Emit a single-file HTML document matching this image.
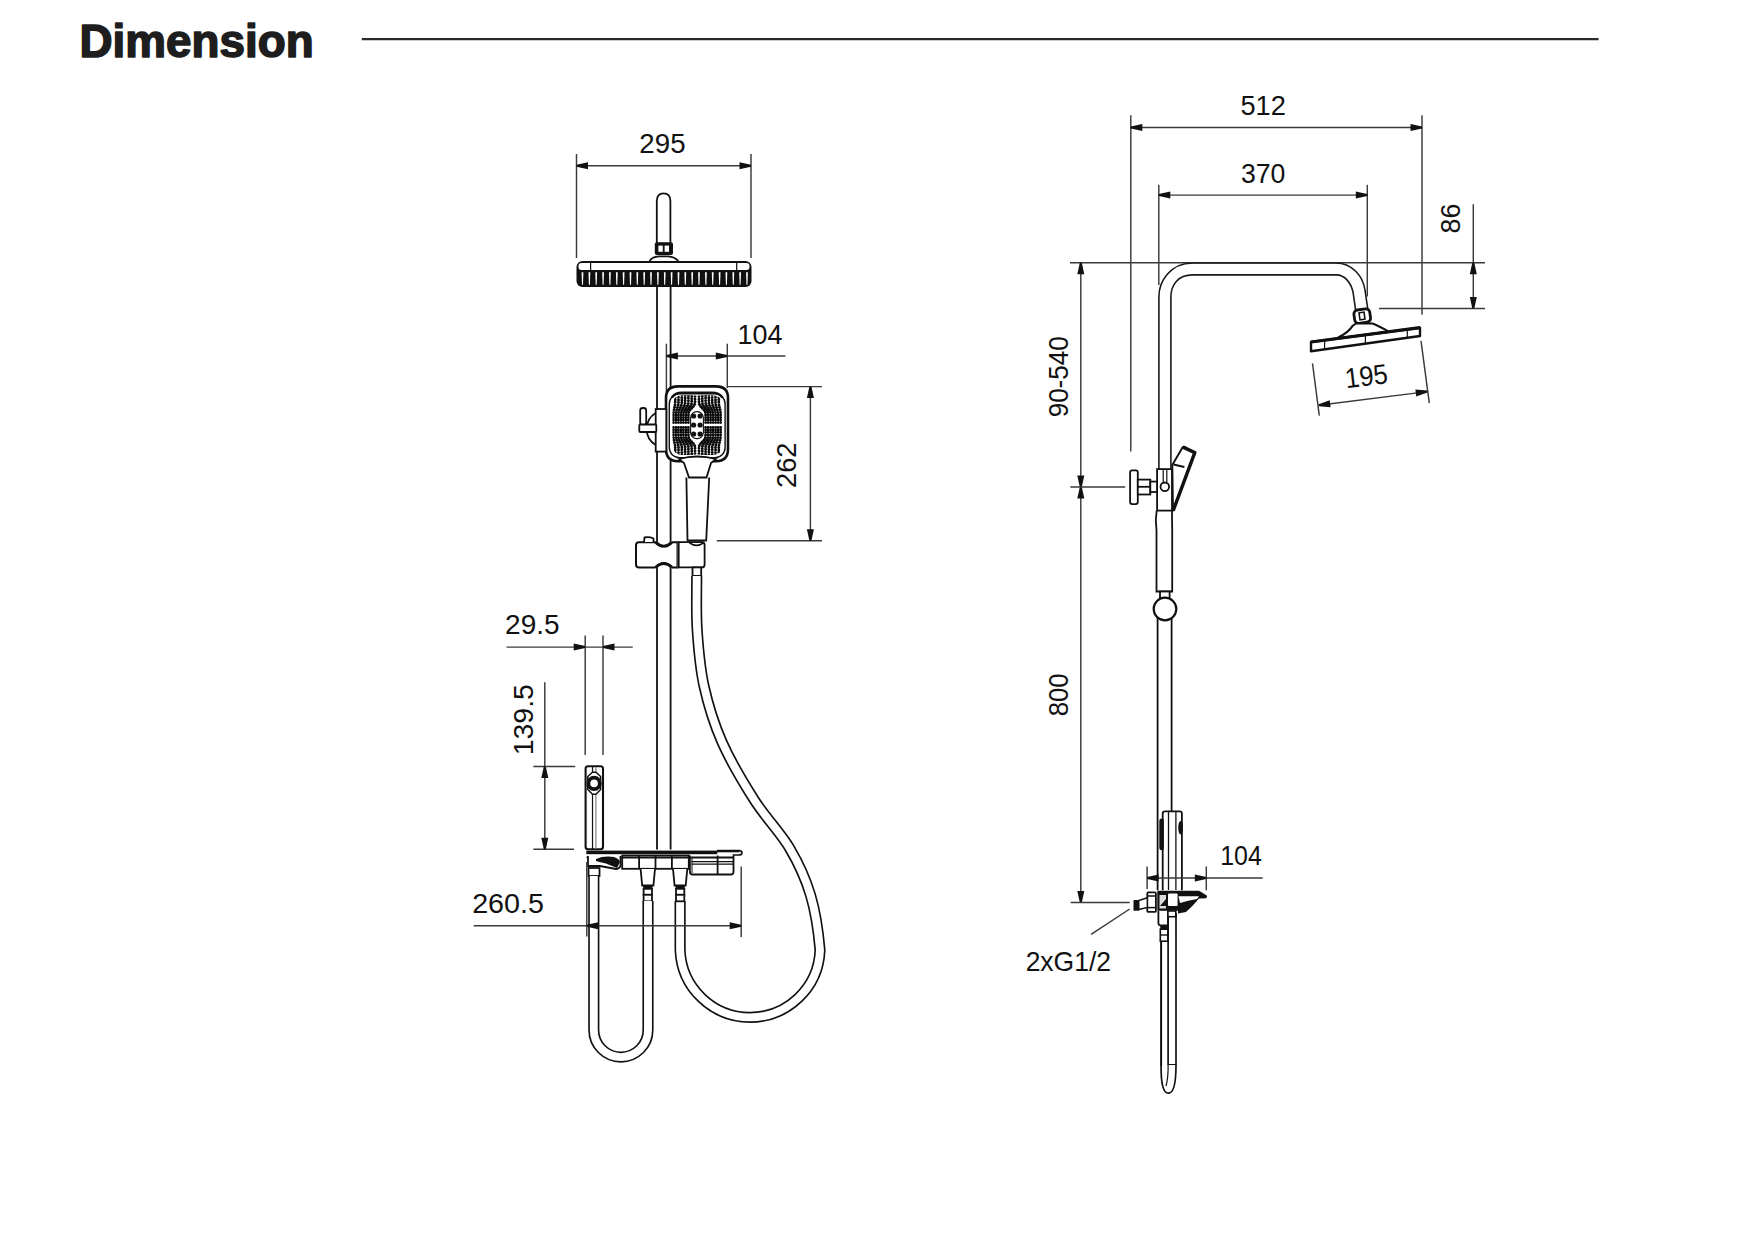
<!DOCTYPE html>
<html><head><meta charset="utf-8"><title>Dimension</title>
<style>
html,body{margin:0;padding:0;background:#fff;}
body{width:1755px;height:1241px;overflow:hidden;}
svg{display:block;font-family:"Liberation Sans",sans-serif;}
</style></head>
<body>
<svg width="1755" height="1241" viewBox="0 0 1755 1241">
<rect width="1755" height="1241" fill="#fff"/>
<text x="79.5" y="56.5" font-size="45.8" font-weight="bold" fill="#1e1e1e" stroke="#1e1e1e" stroke-width="1.6" stroke-linejoin="round">Dimension</text>
<line x1="361.8" y1="39.2" x2="1598.6" y2="39.2" stroke="#2a2a2a" stroke-width="2.3"/>
<g fill="#111">
<line x1="576.5" y1="154.0" x2="576.5" y2="258.0" stroke="#3a3a3a" stroke-width="1.45" fill="none"/>
<line x1="751.0" y1="154.0" x2="751.0" y2="258.0" stroke="#3a3a3a" stroke-width="1.45" fill="none"/>
<line x1="576.5" y1="165.8" x2="751.0" y2="165.8" stroke="#3a3a3a" stroke-width="1.45" fill="none"/>
<path d="M576.50,164.80 L588.00,162.30 L588.00,169.30 L576.50,166.80 Z" fill="#111"/>
<path d="M751.00,166.80 L739.50,169.30 L739.50,162.30 L751.00,164.80 Z" fill="#111"/>
<text x="662.45" y="152.72" font-size="28" text-anchor="middle" textLength="46.19" lengthAdjust="spacingAndGlyphs">295</text>
<path d="M656.8,243 V201 Q656.8,193.3 663.6,193.3 Q670.4,193.3 670.4,201 V243" stroke="#111" stroke-width="1.8" fill="none"/>
<rect x="654.8" y="242.3" width="18.2" height="12.8" rx="2" fill="#111"/>
<rect x="658.4" y="245.6" width="4.4" height="6.2" fill="#fff"/>
<rect x="664.6" y="245.6" width="4.4" height="6.2" fill="#fff"/>
<path d="M649.6,261 Q652,256.8 659,256.3 H668 Q675,256.8 678.3,261" stroke="#111" stroke-width="1.8" fill="none"/>
<rect x="576.5" y="261" width="175" height="26" rx="6" fill="#111"/>
<rect x="578.5" y="263" width="171" height="7" rx="3" fill="#fff"/>
<line x1="590.6" y1="263.0" x2="590.6" y2="270.0" stroke="#111" stroke-width="1.2"/>
<line x1="736.7" y1="263.0" x2="736.7" y2="270.0" stroke="#111" stroke-width="1.2"/>
<path d="M581.6,272.3 L583.4,272.3 L583.0,284.8 L582.0,284.8 Z" fill="#fff"/>
<path d="M588.5,272.3 L590.3,272.3 L589.9,284.8 L588.9,284.8 Z" fill="#fff"/>
<path d="M595.3,272.3 L597.1,272.3 L596.7,284.8 L595.7,284.8 Z" fill="#fff"/>
<path d="M602.2,272.3 L604.0,272.3 L603.6,284.8 L602.6,284.8 Z" fill="#fff"/>
<path d="M609.0,272.3 L610.8,272.3 L610.4,284.8 L609.4,284.8 Z" fill="#fff"/>
<path d="M615.9,272.3 L617.7,272.3 L617.3,284.8 L616.3,284.8 Z" fill="#fff"/>
<path d="M622.7,272.3 L624.5,272.3 L624.1,284.8 L623.1,284.8 Z" fill="#fff"/>
<path d="M629.6,272.3 L631.4,272.3 L631.0,284.8 L630.0,284.8 Z" fill="#fff"/>
<path d="M636.4,272.3 L638.2,272.3 L637.8,284.8 L636.8,284.8 Z" fill="#fff"/>
<path d="M643.3,272.3 L645.1,272.3 L644.7,284.8 L643.7,284.8 Z" fill="#fff"/>
<path d="M650.1,272.3 L651.9,272.3 L651.5,284.8 L650.5,284.8 Z" fill="#fff"/>
<path d="M657.0,272.3 L658.8,272.3 L658.4,284.8 L657.4,284.8 Z" fill="#fff"/>
<path d="M663.9,272.3 L665.6,272.3 L665.2,284.8 L664.2,284.8 Z" fill="#fff"/>
<path d="M670.7,272.3 L672.5,272.3 L672.1,284.8 L671.1,284.8 Z" fill="#fff"/>
<path d="M677.6,272.3 L679.4,272.3 L679.0,284.8 L678.0,284.8 Z" fill="#fff"/>
<path d="M684.4,272.3 L686.2,272.3 L685.8,284.8 L684.8,284.8 Z" fill="#fff"/>
<path d="M691.3,272.3 L693.1,272.3 L692.7,284.8 L691.7,284.8 Z" fill="#fff"/>
<path d="M698.1,272.3 L699.9,272.3 L699.5,284.8 L698.5,284.8 Z" fill="#fff"/>
<path d="M705.0,272.3 L706.8,272.3 L706.4,284.8 L705.4,284.8 Z" fill="#fff"/>
<path d="M711.8,272.3 L713.6,272.3 L713.2,284.8 L712.2,284.8 Z" fill="#fff"/>
<path d="M718.7,272.3 L720.5,272.3 L720.1,284.8 L719.1,284.8 Z" fill="#fff"/>
<path d="M725.5,272.3 L727.3,272.3 L726.9,284.8 L725.9,284.8 Z" fill="#fff"/>
<path d="M732.4,272.3 L734.2,272.3 L733.8,284.8 L732.8,284.8 Z" fill="#fff"/>
<path d="M739.2,272.3 L741.0,272.3 L740.6,284.8 L739.6,284.8 Z" fill="#fff"/>
<path d="M746.1,272.3 L747.9,272.3 L747.5,284.8 L746.5,284.8 Z" fill="#fff"/>
<line x1="657.0" y1="287.0" x2="657.0" y2="849.5" stroke="#111" stroke-width="1.8" fill="none"/>
<line x1="670.6" y1="287.0" x2="670.6" y2="849.5" stroke="#111" stroke-width="1.8" fill="none"/>
<line x1="666.4" y1="343.7" x2="666.4" y2="392.0" stroke="#3a3a3a" stroke-width="1.45" fill="none"/>
<line x1="727.3" y1="343.7" x2="727.3" y2="388.0" stroke="#3a3a3a" stroke-width="1.45" fill="none"/>
<line x1="666.4" y1="356.0" x2="785.4" y2="356.0" stroke="#3a3a3a" stroke-width="1.45" fill="none"/>
<path d="M666.40,355.00 L677.90,352.50 L677.90,359.50 L666.40,357.00 Z" fill="#111"/>
<path d="M727.30,357.00 L715.80,359.50 L715.80,352.50 L727.30,355.00 Z" fill="#111"/>
<text x="760.05" y="343.77" font-size="28" text-anchor="middle" textLength="44.91" lengthAdjust="spacingAndGlyphs">104</text>
<path d="M666,398 Q666,386.4 678,386.4 H716 Q728,386.4 728,398 V449 Q728,461.2 716,461.2 H678 Q666,461.2 666,449 Z" fill="#fff" stroke="#111" stroke-width="2.6"/>
<rect x="669.3" y="393.8" width="55.8" height="63.8" rx="10" fill="#fff" stroke="#111" stroke-width="1.4"/>
<path d="M672,397.5 Q675,392.6 682,392.6 H712 Q719,392.6 722.4,397.5" stroke="#111" stroke-width="2.4" fill="none"/>
<defs><clipPath id="fieldclip"><rect x="672.4" y="395.2" width="50" height="59.8" rx="9"/></clipPath></defs>
<g clip-path="url(#fieldclip)" stroke="#0a0a0a" stroke-width="2.9" stroke-linecap="round" stroke-dasharray="0.01 2.55" fill="none"><path d="M688.40,422.60 L688.40,421.90 L688.40,421.19 L688.40,420.49 L688.40,419.79 L688.40,419.09 L688.40,418.38 L688.40,417.68 L688.40,416.98 L688.40,416.28 L688.40,415.57 L688.40,414.87 L688.40,414.17 L688.40,413.47 L688.49,412.76 L688.74,412.06 L689.11,411.36 L689.59,410.66 L690.15,409.95 L690.77,409.25 L691.42,408.55 L692.08,407.85 L692.73,407.14 L693.34,406.44 L693.89,405.74 L694.35,405.04 L694.71,404.33 L694.93,403.63 L695.00,402.93 L695.00,402.23 L695.00,401.52 L695.00,400.82 L695.00,400.12 L695.00,399.42 L695.00,398.71 L695.00,398.01 L695.00,397.31 L695.00,396.61 L695.00,395.90 L695.00,395.20 L695.00,394.50"/><path d="M688.40,427.40 L688.40,428.10 L688.40,428.81 L688.40,429.51 L688.40,430.21 L688.40,430.91 L688.40,431.62 L688.40,432.32 L688.40,433.02 L688.40,433.72 L688.40,434.43 L688.40,435.13 L688.40,435.83 L688.40,436.53 L688.49,437.24 L688.74,437.94 L689.11,438.64 L689.59,439.34 L690.15,440.05 L690.77,440.75 L691.42,441.45 L692.08,442.15 L692.73,442.86 L693.34,443.56 L693.89,444.26 L694.35,444.96 L694.71,445.67 L694.93,446.37 L695.00,447.07 L695.00,447.77 L695.00,448.48 L695.00,449.18 L695.00,449.88 L695.00,450.58 L695.00,451.29 L695.00,451.99 L695.00,452.69 L695.00,453.39 L695.00,454.10 L695.00,454.80 L695.00,455.50"/><path d="M705.60,422.60 L705.60,421.90 L705.60,421.19 L705.60,420.49 L705.60,419.79 L705.60,419.09 L705.60,418.38 L705.60,417.68 L705.60,416.98 L705.60,416.28 L705.60,415.57 L705.60,414.87 L705.60,414.17 L705.60,413.47 L705.51,412.76 L705.26,412.06 L704.89,411.36 L704.41,410.66 L703.85,409.95 L703.23,409.25 L702.58,408.55 L701.92,407.85 L701.27,407.14 L700.66,406.44 L700.11,405.74 L699.65,405.04 L699.29,404.33 L699.07,403.63 L699.00,402.93 L699.00,402.23 L699.00,401.52 L699.00,400.82 L699.00,400.12 L699.00,399.42 L699.00,398.71 L699.00,398.01 L699.00,397.31 L699.00,396.61 L699.00,395.90 L699.00,395.20 L699.00,394.50"/><path d="M705.60,427.40 L705.60,428.10 L705.60,428.81 L705.60,429.51 L705.60,430.21 L705.60,430.91 L705.60,431.62 L705.60,432.32 L705.60,433.02 L705.60,433.72 L705.60,434.43 L705.60,435.13 L705.60,435.83 L705.60,436.53 L705.51,437.24 L705.26,437.94 L704.89,438.64 L704.41,439.34 L703.85,440.05 L703.23,440.75 L702.58,441.45 L701.92,442.15 L701.27,442.86 L700.66,443.56 L700.11,444.26 L699.65,444.96 L699.29,445.67 L699.07,446.37 L699.00,447.07 L699.00,447.77 L699.00,448.48 L699.00,449.18 L699.00,449.88 L699.00,450.58 L699.00,451.29 L699.00,451.99 L699.00,452.69 L699.00,453.39 L699.00,454.10 L699.00,454.80 L699.00,455.50"/><path d="M685.90,422.60 L685.90,421.90 L685.90,421.19 L685.90,420.49 L685.90,419.79 L685.90,419.09 L685.90,418.38 L685.90,417.68 L685.90,416.98 L685.90,416.28 L685.90,415.57 L685.90,414.87 L685.90,414.17 L685.90,413.47 L685.98,412.76 L686.20,412.06 L686.52,411.36 L686.95,410.66 L687.44,409.95 L687.98,409.25 L688.55,408.55 L689.13,407.85 L689.70,407.14 L690.24,406.44 L690.72,405.74 L691.13,405.04 L691.44,404.33 L691.64,403.63 L691.70,402.93 L691.70,402.23 L691.70,401.52 L691.70,400.82 L691.70,400.12 L691.70,399.42 L691.70,398.71 L691.70,398.01 L691.70,397.31 L691.70,396.61 L691.70,395.90 L691.70,395.20 L691.70,394.50"/><path d="M685.90,427.40 L685.90,428.10 L685.90,428.81 L685.90,429.51 L685.90,430.21 L685.90,430.91 L685.90,431.62 L685.90,432.32 L685.90,433.02 L685.90,433.72 L685.90,434.43 L685.90,435.13 L685.90,435.83 L685.90,436.53 L685.98,437.24 L686.20,437.94 L686.52,438.64 L686.95,439.34 L687.44,440.05 L687.98,440.75 L688.55,441.45 L689.13,442.15 L689.70,442.86 L690.24,443.56 L690.72,444.26 L691.13,444.96 L691.44,445.67 L691.64,446.37 L691.70,447.07 L691.70,447.77 L691.70,448.48 L691.70,449.18 L691.70,449.88 L691.70,450.58 L691.70,451.29 L691.70,451.99 L691.70,452.69 L691.70,453.39 L691.70,454.10 L691.70,454.80 L691.70,455.50"/><path d="M708.10,422.60 L708.10,421.90 L708.10,421.19 L708.10,420.49 L708.10,419.79 L708.10,419.09 L708.10,418.38 L708.10,417.68 L708.10,416.98 L708.10,416.28 L708.10,415.57 L708.10,414.87 L708.10,414.17 L708.10,413.47 L708.02,412.76 L707.80,412.06 L707.48,411.36 L707.05,410.66 L706.56,409.95 L706.02,409.25 L705.45,408.55 L704.87,407.85 L704.30,407.14 L703.76,406.44 L703.28,405.74 L702.87,405.04 L702.56,404.33 L702.36,403.63 L702.30,402.93 L702.30,402.23 L702.30,401.52 L702.30,400.82 L702.30,400.12 L702.30,399.42 L702.30,398.71 L702.30,398.01 L702.30,397.31 L702.30,396.61 L702.30,395.90 L702.30,395.20 L702.30,394.50"/><path d="M708.10,427.40 L708.10,428.10 L708.10,428.81 L708.10,429.51 L708.10,430.21 L708.10,430.91 L708.10,431.62 L708.10,432.32 L708.10,433.02 L708.10,433.72 L708.10,434.43 L708.10,435.13 L708.10,435.83 L708.10,436.53 L708.02,437.24 L707.80,437.94 L707.48,438.64 L707.05,439.34 L706.56,440.05 L706.02,440.75 L705.45,441.45 L704.87,442.15 L704.30,442.86 L703.76,443.56 L703.28,444.26 L702.87,444.96 L702.56,445.67 L702.36,446.37 L702.30,447.07 L702.30,447.77 L702.30,448.48 L702.30,449.18 L702.30,449.88 L702.30,450.58 L702.30,451.29 L702.30,451.99 L702.30,452.69 L702.30,453.39 L702.30,454.10 L702.30,454.80 L702.30,455.50"/><path d="M683.40,422.60 L683.40,421.90 L683.40,421.19 L683.40,420.49 L683.40,419.79 L683.40,419.09 L683.40,418.38 L683.40,417.68 L683.40,416.98 L683.40,416.28 L683.40,415.57 L683.40,414.87 L683.40,414.17 L683.40,413.47 L683.47,412.76 L683.66,412.06 L683.94,411.36 L684.30,410.66 L684.72,409.95 L685.19,409.25 L685.69,408.55 L686.19,407.85 L686.68,407.14 L687.14,406.44 L687.56,405.74 L687.91,405.04 L688.18,404.33 L688.35,403.63 L688.40,402.93 L688.40,402.23 L688.40,401.52 L688.40,400.82 L688.40,400.12 L688.40,399.42 L688.40,398.71 L688.40,398.01 L688.40,397.31 L688.40,396.61 L688.40,395.90 L688.40,395.20 L688.40,394.50"/><path d="M683.40,427.40 L683.40,428.10 L683.40,428.81 L683.40,429.51 L683.40,430.21 L683.40,430.91 L683.40,431.62 L683.40,432.32 L683.40,433.02 L683.40,433.72 L683.40,434.43 L683.40,435.13 L683.40,435.83 L683.40,436.53 L683.47,437.24 L683.66,437.94 L683.94,438.64 L684.30,439.34 L684.72,440.05 L685.19,440.75 L685.69,441.45 L686.19,442.15 L686.68,442.86 L687.14,443.56 L687.56,444.26 L687.91,444.96 L688.18,445.67 L688.35,446.37 L688.40,447.07 L688.40,447.77 L688.40,448.48 L688.40,449.18 L688.40,449.88 L688.40,450.58 L688.40,451.29 L688.40,451.99 L688.40,452.69 L688.40,453.39 L688.40,454.10 L688.40,454.80 L688.40,455.50"/><path d="M710.60,422.60 L710.60,421.90 L710.60,421.19 L710.60,420.49 L710.60,419.79 L710.60,419.09 L710.60,418.38 L710.60,417.68 L710.60,416.98 L710.60,416.28 L710.60,415.57 L710.60,414.87 L710.60,414.17 L710.60,413.47 L710.53,412.76 L710.34,412.06 L710.06,411.36 L709.70,410.66 L709.28,409.95 L708.81,409.25 L708.31,408.55 L707.81,407.85 L707.32,407.14 L706.86,406.44 L706.44,405.74 L706.09,405.04 L705.82,404.33 L705.65,403.63 L705.60,402.93 L705.60,402.23 L705.60,401.52 L705.60,400.82 L705.60,400.12 L705.60,399.42 L705.60,398.71 L705.60,398.01 L705.60,397.31 L705.60,396.61 L705.60,395.90 L705.60,395.20 L705.60,394.50"/><path d="M710.60,427.40 L710.60,428.10 L710.60,428.81 L710.60,429.51 L710.60,430.21 L710.60,430.91 L710.60,431.62 L710.60,432.32 L710.60,433.02 L710.60,433.72 L710.60,434.43 L710.60,435.13 L710.60,435.83 L710.60,436.53 L710.53,437.24 L710.34,437.94 L710.06,438.64 L709.70,439.34 L709.28,440.05 L708.81,440.75 L708.31,441.45 L707.81,442.15 L707.32,442.86 L706.86,443.56 L706.44,444.26 L706.09,444.96 L705.82,445.67 L705.65,446.37 L705.60,447.07 L705.60,447.77 L705.60,448.48 L705.60,449.18 L705.60,449.88 L705.60,450.58 L705.60,451.29 L705.60,451.99 L705.60,452.69 L705.60,453.39 L705.60,454.10 L705.60,454.80 L705.60,455.50"/><path d="M680.90,422.60 L680.90,421.90 L680.90,421.19 L680.90,420.49 L680.90,419.79 L680.90,419.09 L680.90,418.38 L680.90,417.68 L680.90,416.98 L680.90,416.28 L680.90,415.57 L680.90,414.87 L680.90,414.17 L680.90,413.47 L680.96,412.76 L681.11,412.06 L681.35,411.36 L681.66,410.66 L682.01,409.95 L682.41,409.25 L682.82,408.55 L683.24,407.85 L683.65,407.14 L684.04,406.44 L684.39,405.74 L684.69,405.04 L684.91,404.33 L685.06,403.63 L685.10,402.93 L685.10,402.23 L685.10,401.52 L685.10,400.82 L685.10,400.12 L685.10,399.42 L685.10,398.71 L685.10,398.01 L685.10,397.31 L685.10,396.61 L685.10,395.90 L685.10,395.20 L685.10,394.50"/><path d="M680.90,427.40 L680.90,428.10 L680.90,428.81 L680.90,429.51 L680.90,430.21 L680.90,430.91 L680.90,431.62 L680.90,432.32 L680.90,433.02 L680.90,433.72 L680.90,434.43 L680.90,435.13 L680.90,435.83 L680.90,436.53 L680.96,437.24 L681.11,437.94 L681.35,438.64 L681.66,439.34 L682.01,440.05 L682.41,440.75 L682.82,441.45 L683.24,442.15 L683.65,442.86 L684.04,443.56 L684.39,444.26 L684.69,444.96 L684.91,445.67 L685.06,446.37 L685.10,447.07 L685.10,447.77 L685.10,448.48 L685.10,449.18 L685.10,449.88 L685.10,450.58 L685.10,451.29 L685.10,451.99 L685.10,452.69 L685.10,453.39 L685.10,454.10 L685.10,454.80 L685.10,455.50"/><path d="M713.10,422.60 L713.10,421.90 L713.10,421.19 L713.10,420.49 L713.10,419.79 L713.10,419.09 L713.10,418.38 L713.10,417.68 L713.10,416.98 L713.10,416.28 L713.10,415.57 L713.10,414.87 L713.10,414.17 L713.10,413.47 L713.04,412.76 L712.89,412.06 L712.65,411.36 L712.34,410.66 L711.99,409.95 L711.59,409.25 L711.18,408.55 L710.76,407.85 L710.35,407.14 L709.96,406.44 L709.61,405.74 L709.31,405.04 L709.09,404.33 L708.94,403.63 L708.90,402.93 L708.90,402.23 L708.90,401.52 L708.90,400.82 L708.90,400.12 L708.90,399.42 L708.90,398.71 L708.90,398.01 L708.90,397.31 L708.90,396.61 L708.90,395.90 L708.90,395.20 L708.90,394.50"/><path d="M713.10,427.40 L713.10,428.10 L713.10,428.81 L713.10,429.51 L713.10,430.21 L713.10,430.91 L713.10,431.62 L713.10,432.32 L713.10,433.02 L713.10,433.72 L713.10,434.43 L713.10,435.13 L713.10,435.83 L713.10,436.53 L713.04,437.24 L712.89,437.94 L712.65,438.64 L712.34,439.34 L711.99,440.05 L711.59,440.75 L711.18,441.45 L710.76,442.15 L710.35,442.86 L709.96,443.56 L709.61,444.26 L709.31,444.96 L709.09,445.67 L708.94,446.37 L708.90,447.07 L708.90,447.77 L708.90,448.48 L708.90,449.18 L708.90,449.88 L708.90,450.58 L708.90,451.29 L708.90,451.99 L708.90,452.69 L708.90,453.39 L708.90,454.10 L708.90,454.80 L708.90,455.50"/><path d="M678.40,422.60 L678.40,421.90 L678.40,421.19 L678.40,420.49 L678.40,419.79 L678.40,419.09 L678.40,418.38 L678.40,417.68 L678.40,416.98 L678.40,416.28 L678.40,415.57 L678.40,414.87 L678.40,414.17 L678.40,413.47 L678.45,412.76 L678.57,412.06 L678.77,411.36 L679.01,410.66 L679.30,409.95 L679.62,409.25 L679.95,408.55 L680.30,407.85 L680.63,407.14 L680.94,406.44 L681.23,405.74 L681.47,405.04 L681.65,404.33 L681.76,403.63 L681.80,402.93 L681.80,402.23 L681.80,401.52 L681.80,400.82 L681.80,400.12 L681.80,399.42 L681.80,398.71 L681.80,398.01 L681.80,397.31 L681.80,396.61 L681.80,395.90 L681.80,395.20 L681.80,394.50"/><path d="M678.40,427.40 L678.40,428.10 L678.40,428.81 L678.40,429.51 L678.40,430.21 L678.40,430.91 L678.40,431.62 L678.40,432.32 L678.40,433.02 L678.40,433.72 L678.40,434.43 L678.40,435.13 L678.40,435.83 L678.40,436.53 L678.45,437.24 L678.57,437.94 L678.77,438.64 L679.01,439.34 L679.30,440.05 L679.62,440.75 L679.95,441.45 L680.30,442.15 L680.63,442.86 L680.94,443.56 L681.23,444.26 L681.47,444.96 L681.65,445.67 L681.76,446.37 L681.80,447.07 L681.80,447.77 L681.80,448.48 L681.80,449.18 L681.80,449.88 L681.80,450.58 L681.80,451.29 L681.80,451.99 L681.80,452.69 L681.80,453.39 L681.80,454.10 L681.80,454.80 L681.80,455.50"/><path d="M715.60,422.60 L715.60,421.90 L715.60,421.19 L715.60,420.49 L715.60,419.79 L715.60,419.09 L715.60,418.38 L715.60,417.68 L715.60,416.98 L715.60,416.28 L715.60,415.57 L715.60,414.87 L715.60,414.17 L715.60,413.47 L715.55,412.76 L715.43,412.06 L715.23,411.36 L714.99,410.66 L714.70,409.95 L714.38,409.25 L714.05,408.55 L713.70,407.85 L713.37,407.14 L713.06,406.44 L712.77,405.74 L712.53,405.04 L712.35,404.33 L712.24,403.63 L712.20,402.93 L712.20,402.23 L712.20,401.52 L712.20,400.82 L712.20,400.12 L712.20,399.42 L712.20,398.71 L712.20,398.01 L712.20,397.31 L712.20,396.61 L712.20,395.90 L712.20,395.20 L712.20,394.50"/><path d="M715.60,427.40 L715.60,428.10 L715.60,428.81 L715.60,429.51 L715.60,430.21 L715.60,430.91 L715.60,431.62 L715.60,432.32 L715.60,433.02 L715.60,433.72 L715.60,434.43 L715.60,435.13 L715.60,435.83 L715.60,436.53 L715.55,437.24 L715.43,437.94 L715.23,438.64 L714.99,439.34 L714.70,440.05 L714.38,440.75 L714.05,441.45 L713.70,442.15 L713.37,442.86 L713.06,443.56 L712.77,444.26 L712.53,444.96 L712.35,445.67 L712.24,446.37 L712.20,447.07 L712.20,447.77 L712.20,448.48 L712.20,449.18 L712.20,449.88 L712.20,450.58 L712.20,451.29 L712.20,451.99 L712.20,452.69 L712.20,453.39 L712.20,454.10 L712.20,454.80 L712.20,455.50"/><path d="M675.90,422.60 L675.90,421.90 L675.90,421.19 L675.90,420.49 L675.90,419.79 L675.90,419.09 L675.90,418.38 L675.90,417.68 L675.90,416.98 L675.90,416.28 L675.90,415.57 L675.90,414.87 L675.90,414.17 L675.90,413.47 L675.94,412.76 L676.03,412.06 L676.18,411.36 L676.37,410.66 L676.59,409.95 L676.83,409.25 L677.09,408.55 L677.35,407.85 L677.60,407.14 L677.84,406.44 L678.06,405.74 L678.24,405.04 L678.38,404.33 L678.47,403.63 L678.50,402.93 L678.50,402.23 L678.50,401.52 L678.50,400.82 L678.50,400.12 L678.50,399.42 L678.50,398.71 L678.50,398.01 L678.50,397.31 L678.50,396.61 L678.50,395.90 L678.50,395.20 L678.50,394.50"/><path d="M675.90,427.40 L675.90,428.10 L675.90,428.81 L675.90,429.51 L675.90,430.21 L675.90,430.91 L675.90,431.62 L675.90,432.32 L675.90,433.02 L675.90,433.72 L675.90,434.43 L675.90,435.13 L675.90,435.83 L675.90,436.53 L675.94,437.24 L676.03,437.94 L676.18,438.64 L676.37,439.34 L676.59,440.05 L676.83,440.75 L677.09,441.45 L677.35,442.15 L677.60,442.86 L677.84,443.56 L678.06,444.26 L678.24,444.96 L678.38,445.67 L678.47,446.37 L678.50,447.07 L678.50,447.77 L678.50,448.48 L678.50,449.18 L678.50,449.88 L678.50,450.58 L678.50,451.29 L678.50,451.99 L678.50,452.69 L678.50,453.39 L678.50,454.10 L678.50,454.80 L678.50,455.50"/><path d="M718.10,422.60 L718.10,421.90 L718.10,421.19 L718.10,420.49 L718.10,419.79 L718.10,419.09 L718.10,418.38 L718.10,417.68 L718.10,416.98 L718.10,416.28 L718.10,415.57 L718.10,414.87 L718.10,414.17 L718.10,413.47 L718.06,412.76 L717.97,412.06 L717.82,411.36 L717.63,410.66 L717.41,409.95 L717.17,409.25 L716.91,408.55 L716.65,407.85 L716.40,407.14 L716.16,406.44 L715.94,405.74 L715.76,405.04 L715.62,404.33 L715.53,403.63 L715.50,402.93 L715.50,402.23 L715.50,401.52 L715.50,400.82 L715.50,400.12 L715.50,399.42 L715.50,398.71 L715.50,398.01 L715.50,397.31 L715.50,396.61 L715.50,395.90 L715.50,395.20 L715.50,394.50"/><path d="M718.10,427.40 L718.10,428.10 L718.10,428.81 L718.10,429.51 L718.10,430.21 L718.10,430.91 L718.10,431.62 L718.10,432.32 L718.10,433.02 L718.10,433.72 L718.10,434.43 L718.10,435.13 L718.10,435.83 L718.10,436.53 L718.06,437.24 L717.97,437.94 L717.82,438.64 L717.63,439.34 L717.41,440.05 L717.17,440.75 L716.91,441.45 L716.65,442.15 L716.40,442.86 L716.16,443.56 L715.94,444.26 L715.76,444.96 L715.62,445.67 L715.53,446.37 L715.50,447.07 L715.50,447.77 L715.50,448.48 L715.50,449.18 L715.50,449.88 L715.50,450.58 L715.50,451.29 L715.50,451.99 L715.50,452.69 L715.50,453.39 L715.50,454.10 L715.50,454.80 L715.50,455.50"/><path d="M673.40,422.60 L673.40,421.90 L673.40,421.19 L673.40,420.49 L673.40,419.79 L673.40,419.09 L673.40,418.38 L673.40,417.68 L673.40,416.98 L673.40,416.28 L673.40,415.57 L673.40,414.87 L673.40,414.17 L673.40,413.47 L673.43,412.76 L673.49,412.06 L673.59,411.36 L673.72,410.66 L673.88,409.95 L674.05,409.25 L674.22,408.55 L674.40,407.85 L674.58,407.14 L674.75,406.44 L674.90,405.74 L675.02,405.04 L675.12,404.33 L675.18,403.63 L675.20,402.93 L675.20,402.23 L675.20,401.52 L675.20,400.82 L675.20,400.12 L675.20,399.42 L675.20,398.71 L675.20,398.01 L675.20,397.31 L675.20,396.61 L675.20,395.90 L675.20,395.20 L675.20,394.50"/><path d="M673.40,427.40 L673.40,428.10 L673.40,428.81 L673.40,429.51 L673.40,430.21 L673.40,430.91 L673.40,431.62 L673.40,432.32 L673.40,433.02 L673.40,433.72 L673.40,434.43 L673.40,435.13 L673.40,435.83 L673.40,436.53 L673.43,437.24 L673.49,437.94 L673.59,438.64 L673.72,439.34 L673.88,440.05 L674.05,440.75 L674.22,441.45 L674.40,442.15 L674.58,442.86 L674.75,443.56 L674.90,444.26 L675.02,444.96 L675.12,445.67 L675.18,446.37 L675.20,447.07 L675.20,447.77 L675.20,448.48 L675.20,449.18 L675.20,449.88 L675.20,450.58 L675.20,451.29 L675.20,451.99 L675.20,452.69 L675.20,453.39 L675.20,454.10 L675.20,454.80 L675.20,455.50"/><path d="M720.60,422.60 L720.60,421.90 L720.60,421.19 L720.60,420.49 L720.60,419.79 L720.60,419.09 L720.60,418.38 L720.60,417.68 L720.60,416.98 L720.60,416.28 L720.60,415.57 L720.60,414.87 L720.60,414.17 L720.60,413.47 L720.57,412.76 L720.51,412.06 L720.41,411.36 L720.28,410.66 L720.12,409.95 L719.95,409.25 L719.78,408.55 L719.60,407.85 L719.42,407.14 L719.25,406.44 L719.10,405.74 L718.98,405.04 L718.88,404.33 L718.82,403.63 L718.80,402.93 L718.80,402.23 L718.80,401.52 L718.80,400.82 L718.80,400.12 L718.80,399.42 L718.80,398.71 L718.80,398.01 L718.80,397.31 L718.80,396.61 L718.80,395.90 L718.80,395.20 L718.80,394.50"/><path d="M720.60,427.40 L720.60,428.10 L720.60,428.81 L720.60,429.51 L720.60,430.21 L720.60,430.91 L720.60,431.62 L720.60,432.32 L720.60,433.02 L720.60,433.72 L720.60,434.43 L720.60,435.13 L720.60,435.83 L720.60,436.53 L720.57,437.24 L720.51,437.94 L720.41,438.64 L720.28,439.34 L720.12,440.05 L719.95,440.75 L719.78,441.45 L719.60,442.15 L719.42,442.86 L719.25,443.56 L719.10,444.26 L718.98,444.96 L718.88,445.67 L718.82,446.37 L718.80,447.07 L718.80,447.77 L718.80,448.48 L718.80,449.18 L718.80,449.88 L718.80,450.58 L718.80,451.29 L718.80,451.99 L718.80,452.69 L718.80,453.39 L718.80,454.10 L718.80,454.80 L718.80,455.50"/></g>
<rect x="690.6" y="411.6" width="12.8" height="27" rx="6.2" fill="#fff" stroke="#111" stroke-width="1.1"/>
<circle cx="693.6" cy="416" r="2.6" fill="#111"/>
<circle cx="700.1" cy="416" r="2.6" fill="#111"/>
<circle cx="693.6" cy="425" r="2.6" fill="#111"/>
<circle cx="700.1" cy="425" r="2.6" fill="#111"/>
<circle cx="693.6" cy="434" r="2.6" fill="#111"/>
<circle cx="700.1" cy="434" r="2.6" fill="#111"/>
<path d="M679,459 Q697,454 716,459 L711,463 L706.5,477.5 H689 L684,463 Z" fill="#fff" stroke="#111" stroke-width="1.8" fill="none"/>
<path d="M686.4,477.5 L687.5,540.5 H706.2 L709.2,477.5" stroke="#111" stroke-width="1.8" fill="none"/>
<path d="M655.7,413 A18.7,18.7 0 0 0 655.7,445" stroke="#111" stroke-width="1.8" fill="none"/>
<rect x="655.7" y="409" width="10.6" height="42.6" fill="#fff" stroke="#111" stroke-width="1.8" fill="none"/>
<rect x="640.2" y="408" width="6" height="17" rx="2.5" fill="#fff" stroke="#111" stroke-width="1.8" fill="none"/>
<rect x="639.3" y="424.5" width="17" height="7.5" rx="1" fill="#fff" stroke="#111" stroke-width="1.8" fill="none"/>
<line x1="728.0" y1="386.6" x2="822.0" y2="386.6" stroke="#3a3a3a" stroke-width="1.45" fill="none"/>
<line x1="716.8" y1="540.7" x2="822.0" y2="540.7" stroke="#3a3a3a" stroke-width="1.45" fill="none"/>
<line x1="810.4" y1="386.6" x2="810.4" y2="540.7" stroke="#3a3a3a" stroke-width="1.45" fill="none"/>
<path d="M811.40,386.60 L813.90,398.10 L806.90,398.10 L809.40,386.60 Z" fill="#111"/>
<path d="M809.40,540.70 L806.90,529.20 L813.90,529.20 L811.40,540.70 Z" fill="#111"/>
<text x="796.02" y="465.25" font-size="28" text-anchor="middle" textLength="45.55" lengthAdjust="spacingAndGlyphs" transform="rotate(-90 796.02 465.25)">262</text>
<path d="M636,545 Q636,542.2 639,542.2 H655 Q663.8,551 672.5,542.2 H677.5 V567.4 H672.5 Q663.8,558.6 655,567.4 H639 Q636,567.4 636,564.4 Z" fill="#fff" stroke="#111" stroke-width="2"/>
<path d="M656,542.5 Q663.8,549.5 671.5,542.5" stroke="#111" stroke-width="2.6" fill="none"/>
<path d="M656,567 Q663.8,560.2 671.5,567" stroke="#111" stroke-width="2.6" fill="none"/>
<path d="M677.5,542.2 H702 Q704.6,542.2 704.6,545 V564.4 Q704.6,567.4 702,567.4 H677.5" fill="#fff" stroke="#111" stroke-width="1.8" fill="none"/>
<line x1="678.5" y1="542.5" x2="678.5" y2="567.0" stroke="#111" stroke-width="2.2"/>
<path d="M689,541.5 Q696.5,547.5 704,541.5 V543.5 Q696.5,549 689,543.5 Z" fill="#111"/>
<path d="M644,542 L644.5,537.5 Q649,536.5 653.5,538.5 L653.5,542" fill="#fff" stroke="#111" stroke-width="1.8" fill="none"/>
<rect x="692.5" y="567.4" width="8.7" height="8.5" fill="#fff" stroke="#111" stroke-width="1.8" fill="none"/>
<path d="M696.70,576.00 C696.78,594.33 695.98,611.67 697.20,630.00 C698.42,648.33 699.87,667.33 704.00,686.00 C708.13,704.67 713.62,723.00 722.00,742.00 C730.38,761.00 743.02,782.28 754.30,800.00 C765.58,817.72 780.33,832.47 789.70,848.30 C799.07,864.13 805.45,878.05 810.50,895.00 C815.55,911.95 818.42,931.67 820.00,950.00 A70,70 0 0 1 680.1,950 V901" stroke="#111" stroke-width="11.2" fill="none"/>
<path d="M696.70,576.00 C696.78,594.33 695.98,611.67 697.20,630.00 C698.42,648.33 699.87,667.33 704.00,686.00 C708.13,704.67 713.62,723.00 722.00,742.00 C730.38,761.00 743.02,782.28 754.30,800.00 C765.58,817.72 780.33,832.47 789.70,848.30 C799.07,864.13 805.45,878.05 810.50,895.00 C815.55,911.95 818.42,931.67 820.00,950.00 A70,70 0 0 1 680.1,950 V901" stroke="#fff" stroke-width="7.9" fill="none"/>
<line x1="506.5" y1="647.1" x2="632.8" y2="647.1" stroke="#3a3a3a" stroke-width="1.45" fill="none"/>
<line x1="585.2" y1="635.6" x2="585.2" y2="755.0" stroke="#3a3a3a" stroke-width="1.45" fill="none"/>
<line x1="603.0" y1="635.6" x2="603.0" y2="755.0" stroke="#3a3a3a" stroke-width="1.45" fill="none"/>
<path d="M585.20,648.10 L573.70,650.60 L573.70,643.60 L585.20,646.10 Z" fill="#111"/>
<path d="M603.00,646.10 L614.50,643.60 L614.50,650.60 L603.00,648.10 Z" fill="#111"/>
<text x="532.35" y="634.47" font-size="28" text-anchor="middle">29.5</text>
<line x1="544.8" y1="682.3" x2="544.8" y2="849.2" stroke="#3a3a3a" stroke-width="1.45" fill="none"/>
<line x1="533.3" y1="766.5" x2="575.2" y2="766.5" stroke="#3a3a3a" stroke-width="1.45" fill="none"/>
<line x1="533.3" y1="849.2" x2="574.1" y2="849.2" stroke="#3a3a3a" stroke-width="1.45" fill="none"/>
<path d="M545.80,766.50 L548.30,778.00 L541.30,778.00 L543.80,766.50 Z" fill="#111"/>
<path d="M543.80,849.20 L541.30,837.70 L548.30,837.70 L545.80,849.20 Z" fill="#111"/>
<text x="532.57" y="719.70" font-size="28" text-anchor="middle" textLength="71.13" lengthAdjust="spacingAndGlyphs" transform="rotate(-90 532.57 719.70)">139.5</text>
<rect x="585.6" y="766.2" width="17.4" height="83" rx="2.5" fill="#fff" stroke="#111" stroke-width="2.1"/>
<line x1="592.5" y1="767.0" x2="592.5" y2="772.3" stroke="#111" stroke-width="1.2"/>
<line x1="595.9" y1="767.0" x2="595.9" y2="772.3" stroke="#777" stroke-width="1.1"/>
<line x1="592.5" y1="794.2" x2="592.5" y2="849.0" stroke="#111" stroke-width="1.2"/>
<line x1="595.9" y1="794.2" x2="595.9" y2="849.0" stroke="#777" stroke-width="1.1"/>
<path d="M592.5,772.3 H596 L600.6,776.5 V789.5 L596,794.2 H592.5 L587.8,789.5 V776.5 Z" fill="#fff" stroke="#111" stroke-width="1.5"/>
<circle cx="594.1" cy="783.4" r="5.7" fill="none" stroke="#111" stroke-width="3.8"/>
<circle cx="594.1" cy="783.4" r="2.9" fill="#fff"/>
<rect x="586.3" y="850.6" width="131" height="3.6" fill="#111"/>
<path d="M717,850.6 H739.5 Q742.2,851 742,853 Q741.6,855 739,855 H733.5 V856" stroke="#111" stroke-width="1.6" fill="none"/>
<line x1="717.0" y1="851.4" x2="739.5" y2="851.4" stroke="#111" stroke-width="1.8"/>
<line x1="586.5" y1="857.5" x2="622.0" y2="857.5" stroke="#111" stroke-width="1.6"/>
<rect x="622.2" y="855.5" width="66.6" height="13.3" fill="#fff" stroke="#111" stroke-width="1.8" fill="none"/>
<line x1="639.1" y1="855.5" x2="639.1" y2="868.8" stroke="#111" stroke-width="1.8" fill="none"/>
<line x1="655.5" y1="855.5" x2="655.5" y2="868.8" stroke="#111" stroke-width="1.8" fill="none"/>
<line x1="671.9" y1="855.5" x2="671.9" y2="868.8" stroke="#111" stroke-width="1.8" fill="none"/>
<line x1="622.2" y1="857.6" x2="733.4" y2="857.6" stroke="#111" stroke-width="2"/>
<path d="M588,856 V866 H600 L616,869 Q619,869 620.5,866 V856" fill="#fff" stroke="#111" stroke-width="1.8" fill="none"/>
<path d="M596,859 Q604,855.5 614,857 Q619,858.5 620,862 L617,868 Q612,866 606,863.5 Q600,862 596,861 Z" fill="#111"/>
<path d="M689.9,855.5 V872 Q689.9,874.5 692.5,874.5 H731 Q733.5,874.5 733.5,872 V856" fill="#fff" stroke="#111" stroke-width="1.8" fill="none"/>
<line x1="717.6" y1="855.5" x2="717.6" y2="874.5" stroke="#111" stroke-width="1.8" fill="none"/>
<line x1="690.0" y1="857.6" x2="733.4" y2="857.6" stroke="#111" stroke-width="2"/>
<line x1="691.5" y1="861.6" x2="733.0" y2="861.6" stroke="#111" stroke-width="1.1"/>
<line x1="691.5" y1="864.1" x2="733.0" y2="864.1" stroke="#111" stroke-width="1.1"/>
<line x1="692.0" y1="857.0" x2="692.0" y2="873.0" stroke="#111" stroke-width="1"/>
<path d="M640.6,869 L642.2,885.5 H653.4 L655,869" fill="#fff" stroke="#111" stroke-width="1.8" fill="none"/>
<rect x="643.2" y="885.8" width="9.199999999999978" height="3" fill="#111"/>
<rect x="643.6" y="888.8" width="8.399999999999977" height="6" fill="#fff" stroke="#111" stroke-width="1.8" fill="none"/>
<rect x="643.6" y="894.8" width="8.399999999999977" height="6.5" fill="#fff" stroke="#111" stroke-width="1.8" fill="none"/>
<path d="M673,869 L674.6,885.5 H685.6999999999999 L687.3,869" fill="#fff" stroke="#111" stroke-width="1.8" fill="none"/>
<rect x="675.6" y="885.8" width="9.099999999999955" height="3" fill="#111"/>
<rect x="676" y="888.8" width="8.299999999999955" height="6" fill="#fff" stroke="#111" stroke-width="1.8" fill="none"/>
<rect x="676" y="894.8" width="8.299999999999955" height="6.5" fill="#fff" stroke="#111" stroke-width="1.8" fill="none"/>
<rect x="588.5" y="868" width="11" height="8" fill="#fff" stroke="#111" stroke-width="1.8" fill="none"/>
<path d="M593.8,876 V1030 A27.1,27.1 0 0 0 648,1030 V901" stroke="#111" stroke-width="11.2" fill="none"/>
<path d="M593.8,876 V1030 A27.1,27.1 0 0 0 648,1030 V901" stroke="#fff" stroke-width="7.9" fill="none"/>
<line x1="473.7" y1="925.8" x2="741.2" y2="925.8" stroke="#3a3a3a" stroke-width="1.45" fill="none"/>
<line x1="586.8" y1="862.0" x2="586.8" y2="936.4" stroke="#3a3a3a" stroke-width="1.45" fill="none"/>
<line x1="741.2" y1="866.5" x2="741.2" y2="937.0" stroke="#3a3a3a" stroke-width="1.45" fill="none"/>
<path d="M586.80,924.80 L598.30,922.30 L598.30,929.30 L586.80,926.80 Z" fill="#111"/>
<path d="M741.20,926.80 L729.70,929.30 L729.70,922.30 L741.20,924.80 Z" fill="#111"/>
<text x="508.05" y="912.72" font-size="28" text-anchor="middle" textLength="71.85" lengthAdjust="spacingAndGlyphs">260.5</text>
<line x1="1130.8" y1="115.3" x2="1130.8" y2="451.6" stroke="#3a3a3a" stroke-width="1.45" fill="none"/>
<line x1="1422.0" y1="115.3" x2="1422.0" y2="314.8" stroke="#3a3a3a" stroke-width="1.45" fill="none"/>
<line x1="1130.8" y1="127.4" x2="1422.0" y2="127.4" stroke="#3a3a3a" stroke-width="1.45" fill="none"/>
<path d="M1130.80,126.40 L1142.30,123.90 L1142.30,130.90 L1130.80,128.40 Z" fill="#111"/>
<path d="M1422.00,128.40 L1410.50,130.90 L1410.50,123.90 L1422.00,126.40 Z" fill="#111"/>
<text x="1263.10" y="114.92" font-size="28" text-anchor="middle" textLength="45.44" lengthAdjust="spacingAndGlyphs">512</text>
<line x1="1158.8" y1="184.8" x2="1158.8" y2="285.0" stroke="#3a3a3a" stroke-width="1.45" fill="none"/>
<line x1="1367.3" y1="184.8" x2="1367.3" y2="296.5" stroke="#3a3a3a" stroke-width="1.45" fill="none"/>
<line x1="1158.8" y1="195.1" x2="1367.3" y2="195.1" stroke="#3a3a3a" stroke-width="1.45" fill="none"/>
<path d="M1158.80,194.10 L1170.30,191.60 L1170.30,198.60 L1158.80,196.10 Z" fill="#111"/>
<path d="M1367.30,196.10 L1355.80,198.60 L1355.80,191.60 L1367.30,194.10 Z" fill="#111"/>
<text x="1263.10" y="182.77" font-size="28" text-anchor="middle" textLength="44.43" lengthAdjust="spacingAndGlyphs">370</text>
<line x1="1070.0" y1="262.8" x2="1485.0" y2="262.8" stroke="#3a3a3a" stroke-width="1.45" fill="none"/>
<line x1="1473.3" y1="204.2" x2="1473.3" y2="308.4" stroke="#3a3a3a" stroke-width="1.45" fill="none"/>
<line x1="1379.0" y1="308.4" x2="1485.0" y2="308.4" stroke="#3a3a3a" stroke-width="1.45" fill="none"/>
<path d="M1474.30,262.80 L1476.80,274.30 L1469.80,274.30 L1472.30,262.80 Z" fill="#111"/>
<path d="M1472.30,308.40 L1469.80,296.90 L1476.80,296.90 L1474.30,308.40 Z" fill="#111"/>
<text x="1460.02" y="218.55" font-size="28" text-anchor="middle" textLength="29.92" lengthAdjust="spacingAndGlyphs" transform="rotate(-90 1460.02 218.55)">86</text>
<path d="M1158.9,470 V296.8 C1158.9,282 1170,263 1192.5,263 H1335.7 C1352,263 1363,276 1365,290 L1367.8,309.4" stroke="#1a1a1a" stroke-width="1.6" fill="none"/>
<path d="M1170.9,469 V296.8 C1170.9,285 1178,274.9 1192.5,274.9 H1336.3 C1345,275 1351,283 1353,292 L1355.7,310.6" stroke="#1a1a1a" stroke-width="1.6" fill="none"/>
<g transform="rotate(-8 1362 316)"><rect x="1354.2" y="309.4" width="16" height="13.4" rx="4" fill="#fff" stroke="#111" stroke-width="2.8"/><rect x="1359.5" y="312.5" width="5" height="7" fill="#fff" stroke="#111" stroke-width="1.6"/></g>
<path d="M1338,337.5 Q1348,333 1352.8,325.6 L1356,323.5 H1372.5 Q1378,325.5 1388,331.2" fill="#fff" stroke="#111" stroke-width="2"/>
<path d="M1311,342 L1420,327.7 V336 L1311,351.3 Z" fill="#fff" stroke="#111" stroke-width="2.4" stroke-linejoin="round"/>
<path d="M1311,342 L1420,327.7" stroke="#111" stroke-width="3.2" fill="none"/>
<line x1="1324.6" y1="340.0" x2="1324.6" y2="349.5" stroke="#111" stroke-width="1.2"/>
<line x1="1407.3" y1="329.0" x2="1407.3" y2="338.0" stroke="#111" stroke-width="1.2"/>
<line x1="1365.4" y1="335.0" x2="1365.4" y2="343.5" stroke="#111" stroke-width="1.2"/>
<line x1="1324.6" y1="340.3" x2="1407.3" y2="329.5" stroke="#111" stroke-width="1.6"/>
<line x1="1312.5" y1="363.3" x2="1319.3" y2="415.7" stroke="#3a3a3a" stroke-width="1.45" fill="none"/>
<line x1="1421.0" y1="340.8" x2="1429.3" y2="403.1" stroke="#3a3a3a" stroke-width="1.45" fill="none"/>
<line x1="1318.8" y1="405.2" x2="1427.2" y2="391.6" stroke="#3a3a3a" stroke-width="1.45" fill="none"/>
<path d="M1318.68,404.21 L1329.77,400.30 L1330.65,407.24 L1318.92,406.19 Z" fill="#111"/>
<path d="M1427.32,392.59 L1416.23,396.50 L1415.35,389.56 L1427.08,390.61 Z" fill="#111"/>
<text x="1367.47" y="385.65" font-size="28" text-anchor="middle" textLength="42.79" lengthAdjust="spacingAndGlyphs" transform="rotate(-7 1367.47 385.65)">195</text>
<line x1="1080.8" y1="262.8" x2="1080.8" y2="902.4" stroke="#3a3a3a" stroke-width="1.45" fill="none"/>
<path d="M1081.80,262.80 L1084.30,274.30 L1077.30,274.30 L1079.80,262.80 Z" fill="#111"/>
<path d="M1079.80,487.00 L1077.30,475.50 L1084.30,475.50 L1081.80,487.00 Z" fill="#111"/>
<path d="M1081.80,487.00 L1084.30,498.50 L1077.30,498.50 L1079.80,487.00 Z" fill="#111"/>
<path d="M1079.80,902.40 L1077.30,890.90 L1084.30,890.90 L1081.80,902.40 Z" fill="#111"/>
<line x1="1070.3" y1="487.0" x2="1125.2" y2="487.0" stroke="#3a3a3a" stroke-width="1.45" fill="none"/>
<line x1="1070.7" y1="902.4" x2="1129.7" y2="902.4" stroke="#3a3a3a" stroke-width="1.45" fill="none"/>
<text x="1067.62" y="376.80" font-size="28" text-anchor="middle" textLength="81.03" lengthAdjust="spacingAndGlyphs" transform="rotate(-90 1067.62 376.80)">90-540</text>
<text x="1068.02" y="694.80" font-size="28" text-anchor="middle" textLength="43.11" lengthAdjust="spacingAndGlyphs" transform="rotate(-90 1068.02 694.80)">800</text>
<rect x="1130.1" y="470.3" width="7.7" height="33.8" rx="2" fill="#fff" stroke="#111" stroke-width="1.8" fill="none"/>
<rect x="1137.8" y="479.6" width="12.5" height="14.9" fill="#fff" stroke="#111" stroke-width="1.8" fill="none"/>
<line x1="1137.8" y1="486.8" x2="1150.3" y2="486.8" stroke="#111" stroke-width="1.8" fill="none"/>
<rect x="1150.3" y="481.6" width="7.2" height="10.4" fill="#fff" stroke="#111" stroke-width="1.8" fill="none"/>
<rect x="1157.1" y="469.1" width="14.9" height="41.5" fill="#fff" stroke="#111" stroke-width="1.8" fill="none"/>
<line x1="1163.2" y1="469.1" x2="1163.2" y2="482.4" stroke="#111" stroke-width="1.2"/>
<line x1="1166.8" y1="469.1" x2="1166.8" y2="482.4" stroke="#111" stroke-width="1.2"/>
<circle cx="1164.8" cy="486.8" r="4.3" fill="#fff" stroke="#111" stroke-width="1.8" fill="none"/>
<path d="M1172.3,465 L1182.5,447.5 Q1183.5,446.4 1185,447 L1194.6,452.4 L1173,510.6 Z" fill="#fff" stroke="#111" stroke-width="1.9" stroke-linejoin="round"/>
<path d="M1183,447.3 L1194.8,452.6 L1173.2,510.6" stroke="#111" stroke-width="3.4" fill="none" stroke-linejoin="round"/>
<line x1="1173.5" y1="464.6" x2="1184.4" y2="466.9" stroke="#111" stroke-width="2"/>
<path d="M1156.7,510.6 Q1155,520 1156.5,530 V591.5 H1172.2 V530 Q1172,520 1172,510.6" stroke="#111" stroke-width="1.8" fill="none"/>
<rect x="1160" y="591.5" width="9.6" height="6.5" fill="#fff" stroke="#111" stroke-width="1.8" fill="none"/>
<line x1="1157.6" y1="612.0" x2="1157.6" y2="890.3" stroke="#111" stroke-width="1.8" fill="none"/>
<line x1="1171.6" y1="612.0" x2="1171.6" y2="811.3" stroke="#111" stroke-width="1.8" fill="none"/>
<circle cx="1165" cy="609" r="11.3" fill="#fff" stroke="#111" stroke-width="2.2"/>
<line x1="1158.8" y1="285.0" x2="1158.8" y2="285.0" stroke="#3a3a3a" stroke-width="1.45" fill="none"/>
<path d="M1162.7,890.3 V813.5 Q1162.7,811.3 1165,811.3 H1179.6 Q1181.9,811.3 1181.9,813.5 V890.3" fill="#fff" stroke="#111" stroke-width="1.8" fill="none"/>
<line x1="1168.5" y1="812.0" x2="1168.5" y2="890.0" stroke="#111" stroke-width="1.3"/>
<line x1="1175.9" y1="812.0" x2="1175.9" y2="890.0" stroke="#111" stroke-width="1.3"/>
<rect x="1159.3" y="818.6" width="4.6" height="31.6" rx="2.3" fill="#111"/>
<ellipse cx="1180.6" cy="827.7" rx="2.4" ry="6.8" fill="#111"/>
<line x1="1147.1" y1="866.5" x2="1147.1" y2="889.0" stroke="#3a3a3a" stroke-width="1.45" fill="none"/>
<line x1="1206.3" y1="866.5" x2="1206.3" y2="890.3" stroke="#3a3a3a" stroke-width="1.45" fill="none"/>
<line x1="1147.1" y1="877.9" x2="1262.7" y2="877.9" stroke="#3a3a3a" stroke-width="1.45" fill="none"/>
<path d="M1147.10,876.90 L1158.60,874.40 L1158.60,881.40 L1147.10,878.90 Z" fill="#111"/>
<path d="M1206.30,878.90 L1194.80,881.40 L1194.80,874.40 L1206.30,876.90 Z" fill="#111"/>
<text x="1241.00" y="864.87" font-size="28" text-anchor="middle" textLength="41.62" lengthAdjust="spacingAndGlyphs">104</text>
<path d="M1157.3,890.8 H1199 L1206.8,895.6 Q1207.8,897.2 1206,898.3 L1199,898.6 Q1193,906 1186,912 L1178,913.5 V910.8 H1157.3 Z" fill="#111"/>
<rect x="1168" y="893.4" width="9.6" height="12.6" rx="1" fill="#fff"/>
<path d="M1178.5,896.3 H1199 L1197,899 Q1188,900.5 1180,903 Z" fill="#fff"/>
<path d="M1159.5,895 H1166 V899 L1160,906 H1166 V908.5 H1159.5 Z" fill="#fff" opacity="0.85"/>
<rect x="1147.3" y="892.4" width="8.6" height="19.5" rx="1" fill="#fff" stroke="#111" stroke-width="1.8"/>
<line x1="1147.3" y1="896.0" x2="1155.9" y2="896.0" stroke="#111" stroke-width="1.5"/>
<line x1="1147.3" y1="907.6" x2="1155.9" y2="907.6" stroke="#111" stroke-width="1.5"/>
<path d="M1138.8,900.5 L1147.3,897.8 V907.5 L1138.8,909.5 Z" fill="#fff" stroke="#111" stroke-width="1.4"/>
<rect x="1133.5" y="900" width="5.4" height="10.7" fill="#111"/>
<line x1="1129.7" y1="909.0" x2="1091.1" y2="934.3" stroke="#3a3a3a" stroke-width="1.45" fill="none"/>
<text x="1068.35" y="970.72" font-size="28" text-anchor="middle" textLength="85.45" lengthAdjust="spacingAndGlyphs">2xG1/2</text>
<path d="M1158.4,911 V923 Q1158.6,925.5 1160.5,925.5 H1168 V911" fill="#fff" stroke="#111" stroke-width="1.8"/>
<rect x="1167.9" y="911" width="7.9" height="5.7" fill="#fff" stroke="#111" stroke-width="1.6"/>
<rect x="1160.3" y="925.2" width="7.6" height="4" fill="#111"/>
<rect x="1160.3" y="929.2" width="7.6" height="12" fill="#fff" stroke="#111" stroke-width="1.6"/>
<line x1="1160.3" y1="935.0" x2="1167.9" y2="935.0" stroke="#111" stroke-width="1.4"/>
<line x1="1168.1" y1="916.0" x2="1168.1" y2="1065.0" stroke="#111" stroke-width="1.7"/>
<line x1="1176.0" y1="913.0" x2="1176.0" y2="1065.0" stroke="#111" stroke-width="1.7"/>
<line x1="1161.1" y1="941.0" x2="1161.1" y2="1066.0" stroke="#111" stroke-width="2"/>
<path d="M1161.1,1066 Q1160.8,1093.2 1168.4,1093.2 Q1176,1093.2 1176,1065" stroke="#111" stroke-width="1.7" fill="none"/>
<path d="M1168.1,1064.5 H1176 M1168.1,1065 Q1168.3,1078 1166,1086" stroke="#111" stroke-width="1.2" fill="none"/>
</g>
</svg>
</body></html>
